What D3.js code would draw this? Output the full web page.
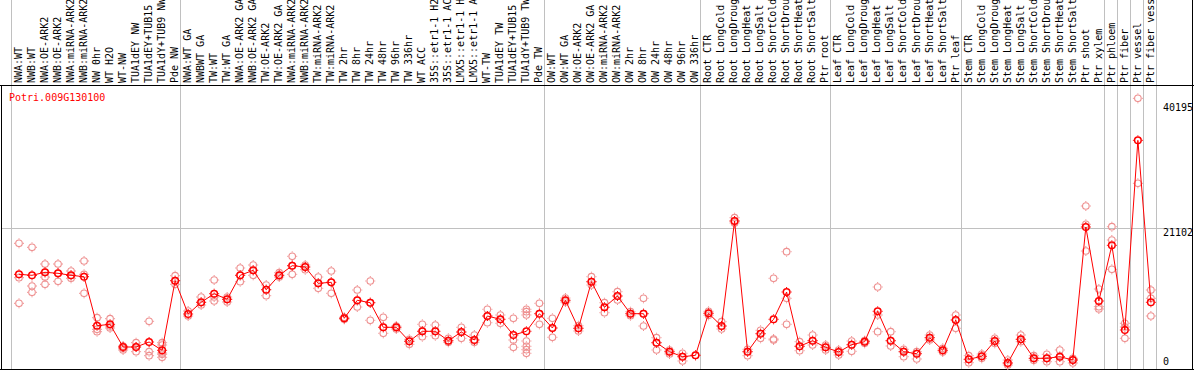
<!DOCTYPE html>
<html>
<head>
<meta charset="utf-8">
<script src="https://cdn.jsdelivr.net/npm/d3@7"></script>
<style>
  body { margin: 0; background: #fff; }
  svg { display: block; font-family: "DejaVu Sans Mono", monospace; font-size: 10px; }
</style>
</head>
<body>
<svg id="chart" width="1194" height="370"></svg>
<script>
// gene shown in the plot
var geneId = "Potri.009G130100";

// sample names, left to right
var samples = [
  "NWA:WT", "NWB:WT", "NWA:OE-ARK2", "NWB:OE-ARK2", "NWA:miRNA-ARK2", "NWB:miRNA-ARK2",
  "NW 0hr", "WT H2O", "WT-NW", "TUA1dEY NW", "TUA1dEY+TUB15 NW", "TUA1dY+TUB9 NW", "Pde NW",
  "NWA:WT GA", "NWBWT GA", "TW:WT", "TW:WT GA", "NWA:OE-ARK2 GA", "NWB:OE-ARK2 GA",
  "TW:OE-ARK2", "TW:OE-ARK2 GA", "NWA:miRNA-ARK2", "NWB:miRNA-ARK2", "TW:miRNA-ARK2",
  "TW:miRNA-ARK2", "TW 2hr", "TW 8hr", "TW 24hr", "TW 48hr", "TW 96hr", "TW 336hr", "WT ACC",
  "35S::etr1-1 H2O", "35S::etr1-1 ACC", "LMX5::etr1-1 H2O", "LMX5::etr1-1 ACC", "WT-TW",
  "TUA1dEY TW", "TUA1dEY+TUB15 TW", "TUA1dY+TUB9 TW", "Pde TW",
  "OW:WT", "OW:WT GA", "OW:OE-ARK2", "OW:OE-ARK2 GA", "OW:miRNA-ARK2", "OW:miRNA-ARK2",
  "OW 2hr", "OW 8hr", "OW 24hr", "OW 48hr", "OW 96hr", "OW 336hr",
  "Root CTR", "Root LongCold", "Root LongDrought", "Root LongHeat", "Root LongSalt",
  "Root ShortCold", "Root ShortDrought", "Root ShortHeat", "Root ShortSalt", "Ptr root",
  "Leaf CTR", "Leaf LongCold", "Leaf LongDrought", "Leaf LongHeat", "Leaf LongSalt",
  "Leaf ShortCold", "Leaf ShortDrought", "Leaf ShortHeat", "Leaf ShortSalt", "Ptr leaf",
  "Stem CTR", "Stem LongCold", "Stem LongDrought", "Stem LongHeat", "Stem LongSalt",
  "Stem ShortCold", "Stem ShortDrought", "Stem ShortHeat", "Stem ShortSalt", "Ptr shoot",
  "Ptr xylem", "Ptr phloem", "Ptr fiber", "Ptr vessel", "Ptr fiber vessel"
];

// sample index where each group ends (separator lines)
var groupBreaks = [0, 13, 41, 53, 63, 73, 84, 85, 86, 87, 88];

// mean expression per sample
var meanValues = [
  14080, 13926, 14384, 14232, 13926, 13712, 6230, 6444, 2978, 2978, 3741, 2474, 13102,
  8017, 9803, 11117, 10261, 13926, 14690, 11727, 13926, 15392, 15194, 12705, 12857,
  7360, 10109, 9742, 5986, 5986, 3848, 5375, 5375, 3940, 5268, 4047, 7711, 7207, 4810,
  5375, 8063,
  5879, 10109, 5833, 12949, 9040, 10765, 8063, 8063, 3634, 2260, 1496, 1710,
  8124, 6184, 22218, 2260, 5008, 7207, 11376, 3085, 3940, 2932,
  2214, 3329, 3787, 8429, 3940, 2260, 1955, 4398, 2474, 7101,
  1099, 1558, 3894, 534, 4153, 1252, 1252, 1496, 993, 21302, 10002,
  18507, 5574, 34541, 9803
];

// individual replicates per sample
var replicateValues = [
  [18813, 13560, 9651], [18202, 12292, 11330], [15652, 14384, 12552, 13650], [15652, 14232, 13010],
  [14583, 13468, 13926], [16110, 14079, 11178], [7452, 5680, 5314], [7299, 6184, 5879],
  [3130, 2779, 2520], [3634, 2260, 2978], [6902, 2260, 1649], [3634, 3283, 1863, 1405, 2061],
  [13865, 12552, 13102],
  [8475, 7711], [10613, 9391, 9803], [13209, 10002, 10613], [10613, 9849, 10261],
  [15041, 12949, 13926], [15499, 13926, 14690], [12445, 10811, 11727], [14323, 13667, 13926],
  [16828, 14079, 15392], [15499, 14781, 15194], [13667, 11941, 12705], [14583, 11178, 12857],
  [7513, 7207, 7360], [11682, 9086, 10109], [13056, 7055, 9742], [7513, 5070, 5986],
  [6184, 5726, 5986], [4153, 3390, 3848], [6444, 4550, 5375], [6337, 4703, 5375],
  [4306, 3695, 3940], [5986, 4306, 5268], [4810, 3695, 4047], [8734, 6688, 7711],
  [7864, 6597, 7207], [7360, 4047, 2932],
  [8734, 8368, 7864, 3894, 3085, 2565, 2016], [9651, 6444, 8063],
  [7360, 4459, 5879], [10460, 9849, 10109], [6230, 5421, 5833], [13712, 12445, 12949],
  [9742, 8215, 9040], [11422, 10155, 10765], [8368, 7757, 8063], [10414, 6184, 8063],
  [4398, 2520, 3634], [2520, 1909, 2260], [2016, 840, 1496], [1710],
  [8429, 7818, 8124], [6841, 5726, 6184], [22722, 21913, 22218], [2626, 1649, 2260],
  [5528, 4306, 5008], [13468, 4047, 4200], [17530, 10414, 6444], [3787, 2413, 3085],
  [4810, 3283, 3940], [3283, 2520, 2932],
  [2520, 1756, 2214], [3894, 2321, 3329], [3940, 3543, 3787], [12140, 7864, 5314],
  [5314, 3130, 3940], [2626, 1496, 2260], [2260, 1145, 1955], [4810, 4047, 4398],
  [2779, 2214, 2474], [7864, 5833, 7101],
  [1649, 580, 1099], [1909, 1252, 1558], [4306, 3543, 3894], [993, 229, 534],
  [4810, 3787, 4153], [1649, 947, 1252], [1863, 733, 1252], [2520, 733, 1496],
  [1252, 534, 993], [24511, 21714, 17637], [11834, 9132, 8780],
  [21347, 19317, 14842], [6597, 4306, 6032], [40954, 27975], [11682, 10414, 7711]
];

// value ticks on the right
var yTicks = [0, 21102, 40195];

var W = 1194, H = 370;
var svg = d3.select("#chart");

var x = d3.scaleBand()
  .domain(d3.range(samples.length))
  .range([10.8, 1155.7])
  .paddingInner(0)
  .paddingOuter(0);

var y = d3.scaleLinear()
  .domain([0, 40195])
  .range([366.5, 103.3]);

function cx(i) { return x(i) + 8.2; }

// separator lines between groups
svg.selectAll(".sep")
  .data(groupBreaks)
  .enter()
  .append("line")
  .attr("class", "sep")
  .attr("x1", function (d) { return Math.round(x(0) + d * x.bandwidth()) + 0.5; })
  .attr("x2", function (d) { return Math.round(x(0) + d * x.bandwidth()) + 0.5; })
  .attr("y1", 0)
  .attr("y2", 369)
  .attr("stroke", "#c0c0c0")
  .attr("stroke-width", 1);

// horizontal grid line (only the middle tick)
svg.append("line")
  .attr("x1", 1).attr("x2", 1193)
  .attr("y1", Math.round(y(yTicks[1])) + 0.5)
  .attr("y2", Math.round(y(yTicks[1])) + 0.5)
  .attr("stroke", "#c0c0c0");

// frame
svg.append("line").attr("x1", 0).attr("x2", W).attr("y1", 85.5).attr("y2", 85.5).attr("stroke", "#000");
svg.append("line").attr("x1", 0).attr("x2", W).attr("y1", 369.5).attr("y2", 369.5).attr("stroke", "#000");
svg.append("line").attr("x1", 1.5).attr("x2", 1.5).attr("y1", 85.5).attr("y2", H).attr("stroke", "#000");
svg.append("line").attr("x1", 1192.5).attr("x2", 1192.5).attr("y1", 0).attr("y2", H).attr("stroke", "#000");

// sample labels, rotated
svg.selectAll(".lab")
  .data(samples)
  .enter()
  .append("text")
  .attr("class", "lab")
  .attr("transform", function (d, i) { return "translate(" + (x(i) + 11) + ",83) rotate(-90)"; })
  .attr("fill", "#000")
  .text(function (d) { return d; });

// gene id
svg.append("text")
  .attr("x", 9)
  .attr("y", 100.5)
  .attr("fill", "#ff0000")
  .text(geneId);

// y tick labels
svg.selectAll(".ytick")
  .data(yTicks)
  .enter()
  .append("text")
  .attr("class", "ytick")
  .attr("x", 1163)
  .attr("y", function (d) { return Math.min(y(d) + 7.8, 365); })
  .attr("fill", "#000")
  .text(function (d) { return d; });

// replicate points
var reps = [];
replicateValues.forEach(function (arr, i) {
  arr.forEach(function (v) { reps.push({ i: i, v: v }); });
});

function marker(g, data, color, sw) {
  g.selectAll("circle")
    .data(data)
    .enter()
    .append("circle")
    .attr("cx", function (d) { return cx(d.i); })
    .attr("cy", function (d) { return y(d.v); })
    .attr("r", 3.3)
    .attr("fill", "none")
    .attr("stroke", color)
    .attr("stroke-width", sw);
  // small ticks around each ring
  g.selectAll("path")
    .data(data)
    .enter()
    .append("path")
    .attr("d", function (d) {
      var px = cx(d.i), py = y(d.v);
      return "M" + px + "," + (py - 5) + "v1" +
        "M" + px + "," + (py + 4) + "v1" +
        "M" + (px - 5) + "," + py + "h1" +
        "M" + (px + 4) + "," + py + "h1";
    })
    .attr("stroke", color)
    .attr("stroke-width", 1);
}

marker(svg.append("g"), reps, "#ee9090", 1.1);

// mean line
var line = d3.line()
  .x(function (d, i) { return cx(i); })
  .y(function (d) { return y(d); });

svg.append("path")
  .datum(meanValues)
  .attr("d", line)
  .attr("fill", "none")
  .attr("stroke", "#ff0000")
  .attr("stroke-width", 1);

marker(svg.append("g"), meanValues.map(function (v, i) { return { i: i, v: v }; }), "#ff0000", 1.5);
</script>
</body>
</html>
